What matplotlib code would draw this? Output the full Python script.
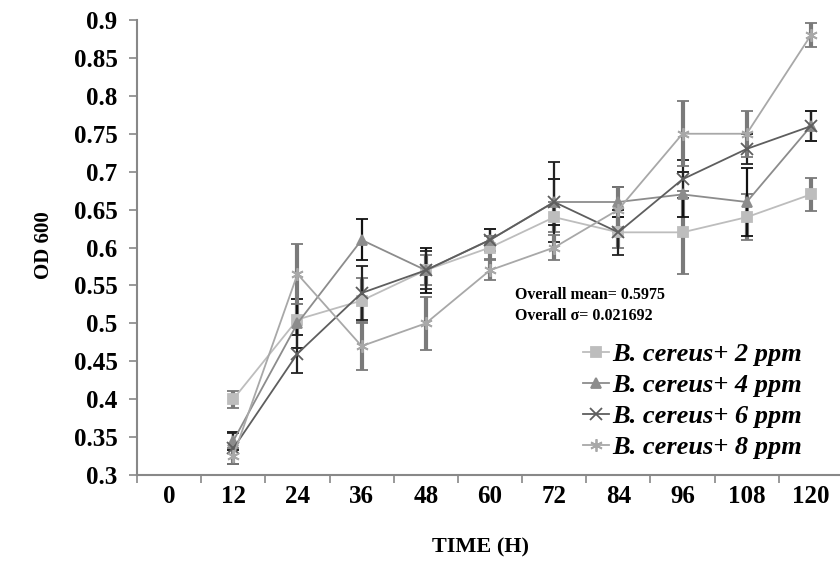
import matplotlib.pyplot as plt
import numpy as np

plt.rcParams['font.family'] = ['Liberation Serif', 'DejaVu Serif']

hours = ['0', '12', '24', '36', '48', '60', '72', '84', '96', '108', '120']
labels = ['B. cereus+ 2 ppm', 'B. cereus+ 4 ppm', 'B. cereus+ 6 ppm', 'B. cereus+ 8 ppm']

# OD600 readings from 12 h to 120 h
od_2ppm = [0.40, 0.505, 0.53, 0.57, 0.60, 0.64, 0.62, 0.62, 0.64, 0.67]
od_4ppm = [0.345, 0.50, 0.61, 0.57, 0.61, 0.66, 0.66, 0.67, 0.66, 0.76]
od_6ppm = [0.335, 0.46, 0.54, 0.57, 0.61, 0.66, 0.62, 0.69, 0.73, 0.76]
od_8ppm = [0.325, 0.565, 0.47, 0.50, 0.57, 0.60, 0.65, 0.75, 0.75, 0.88]

err_2ppm = [0.011, 0.02, 0.03, 0.02, 0.015, 0.02, 0.02, 0.055, 0.03, 0.022]
err_4ppm = [0.012, 0.032, 0.027, 0.03, 0.015, 0.03, 0.02, 0.03, 0.045, 0.02]
err_6ppm = [0.02, 0.025, 0.035, 0.025, 0.015, 0.053, 0.03, 0.025, 0.02, 0.02]
err_8ppm = [0.01, 0.04, 0.032, 0.035, 0.013, 0.017, 0.03, 0.043, 0.03, 0.016]

fig = plt.figure(figsize=(8.4, 5.77), dpi=100)
ax = fig.add_axes([137 / 840, 102 / 577, 706 / 840, 455 / 577])

x = np.arange(1, len(hours))
series = [
    (od_2ppm, err_2ppm, '#bdbdbd', 's', 7, '#7a7a7a', 3.0),
    (od_4ppm, err_4ppm, '#8c8c8c', '^', 7, '#111111', 1.6),
    (od_6ppm, err_6ppm, '#5e5e5e', 'x', 8, '#222222', 1.6),
    (od_8ppm, err_8ppm, '#a8a8a8', (6, 2, 0), 9, '#7a7a7a', 3.0),
]
handles = []
for (y, e, col, mk, ms, ecol, elw), lab in zip(series, labels):
    line, caps, bars = ax.errorbar(x, y, yerr=e, color=col, lw=1.3, marker=mk, ms=ms,
                                   mec=col, mfc=col, mew=1.3, ecolor=ecol, elinewidth=elw,
                                   capsize=4, capthick=2)
    for c in caps:
        c.set_color('black')
    h, = ax.plot([], [], color=col, lw=1.3, marker=mk, ms=ms, mec=col, mfc=col, mew=1.3)
    handles.append(h)

ax.set_xlim(-0.5, 10.5)
ax.set_ylim(0.3, 0.9)
ax.set_yticks(np.arange(0.3, 0.901, 0.05))
ax.set_yticklabels(['0.3', '0.35', '0.4', '0.45', '0.5', '0.55', '0.6', '0.65', '0.7',
                    '0.75', '0.8', '0.85', '0.9'])
ax.set_xticks(np.arange(-0.5, 11, 1))
ax.set_xticklabels([])
ax.set_xticks(np.arange(len(hours)), minor=True)
ax.set_xticklabels(hours, minor=True)
ax.tick_params(axis='x', which='minor', length=0, pad=7, labelsize=18)
ax.tick_params(axis='x', which='major', length=6, width=1.2, color='#888888')
ax.tick_params(axis='y', length=6, width=1.2, color='#888888', labelsize=18, pad=8)
for t in ax.get_xticklabels(minor=True) + ax.get_yticklabels():
    t.set_fontweight('bold')

for s in ['top', 'right']:
    ax.spines[s].set_visible(False)
for s in ['left', 'bottom']:
    ax.spines[s].set_color('#888888')
    ax.spines[s].set_linewidth(1.5)

ax.set_ylabel('OD 600', fontsize=15, fontweight='bold', va='center')
ax.yaxis.set_label_coords(-0.132, 0.505)
ax.set_xlabel('TIME (H)', fontsize=16, fontweight='bold', va='center')
ax.xaxis.set_label_coords(0.486, -0.16)

fig.text(515 / 840, 1 - 295 / 577, 'Overall mean= 0.5975', fontsize=11.5,
         fontweight='bold', va='center')
fig.text(515 / 840, 1 - 316 / 577, 'Overall \u03c3= 0.021692', fontsize=11.5,
         fontweight='bold', va='center')

ax.legend(handles, labels, loc='upper left', bbox_to_anchor=(583 / 840, 1 - 343 / 577),
          bbox_transform=fig.transFigure, frameon=False, handlelength=1.0,
          handletextpad=0.1, labelspacing=0.28, borderpad=0, borderaxespad=0,
          prop={'size': 19, 'weight': 'bold', 'style': 'italic'})

fig.savefig('out.png', dpi=100)
